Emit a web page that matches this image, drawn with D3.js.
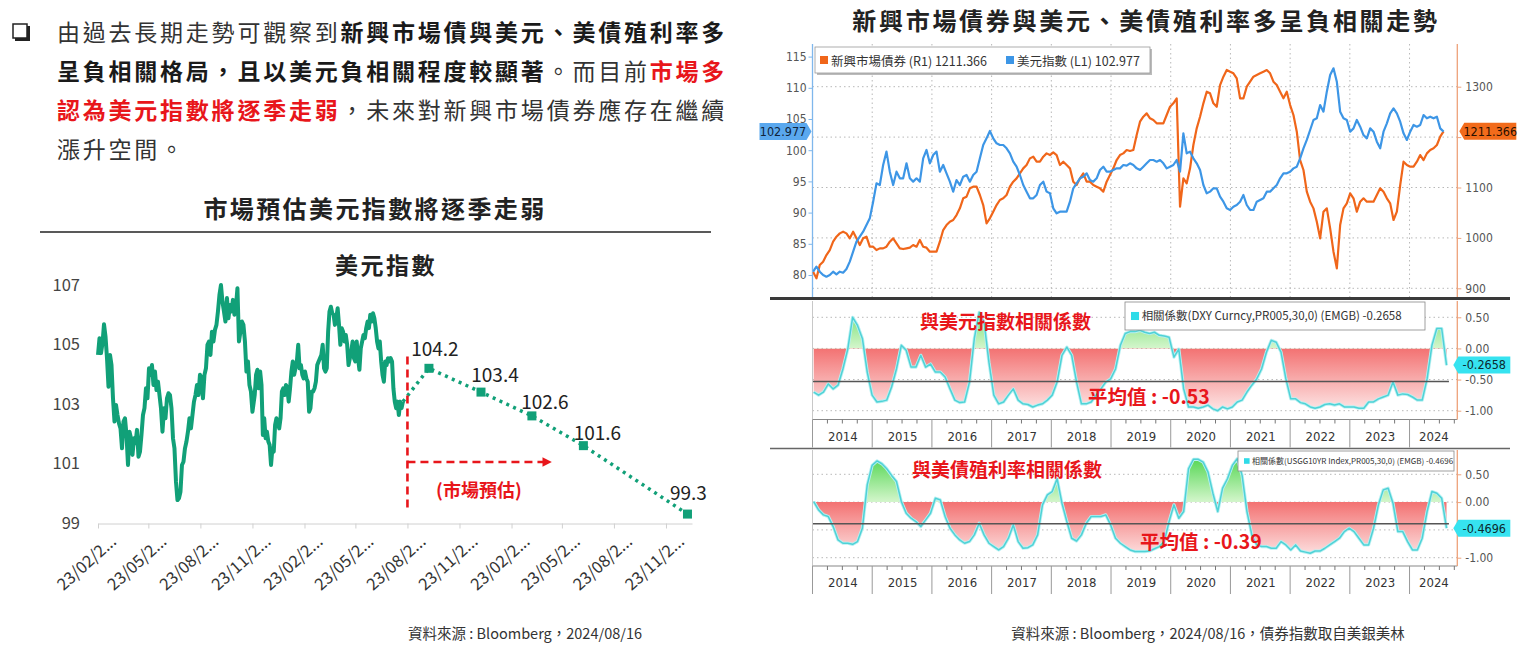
<!DOCTYPE html>
<html>
<head>
<meta charset="utf-8">
<script src="https://d3js.org/d3.v7.min.js"></script>
<style>
  body { margin: 0; background: #fff; }
  svg { display: block; }
</style>
</head>
<body>
<svg width="1530" height="648"></svg>
<script>
// ---------------- data ----------------

// left chart: US dollar index, Feb 2023 - Aug 2024
const dxyHistA = [
  104.65,105.21,104.71,105.04,105.68,105.27,104.54,103.58,104.65,104.31,
  103.19,102.41,102.97,102.63,102.35,102.18,101.51,102.41,102.52,101.96,
  100.95,102.07,101.85,101.29,101.85,101.68,102.13,101.23,101.40,101.96,
  102.63,102.86,103.53,103.19,104.20,103.98,104.31,103.64,104.09,103.47,
  103.75,103.30,102.86,102.07,102.86,102.52,103.19,103.36,103.30,102.86,
  101.85,101.51,100.39,99.77,99.83,100.05,100.95,101.06,101.51,101.74,
  102.07,102.52,102.18,102.63,103.08,103.30,103.64,103.30,103.98,103.86,
  103.19,103.98,104.20,104.99,105.10,104.65,105.43,105.10,105.49,105.66,
  106.11,106.67,107.00,106.44,106.11,105.77,106.56,105.88,106.33,106.11,
  106.50,106.00,106.27,106.89,105.10,105.43,105.77,105.66,105.10,104.09,
  104.43,103.64,103.42,102.74
]
const dxyHistB = [
  103.30,103.98,104.15,103.53,104.09,103.64,101.96,102.52,101.85,102.07,
  101.74,101.62,100.95,101.51,101.40,102.30,102.52,102.41,102.18,102.52,
  103.42,103.53,103.30,103.64,103.53,103.08,103.53,104.09,104.43,103.98,
  104.20,104.43,104.99,104.20,104.31,103.98,103.86,104.09,103.86,103.75,
  102.74,102.86,103.42,103.42,103.53,103.75,104.31,104.43,104.54,104.65,
  104.99,104.20,104.09,104.20,105.43,106.11,106.27,106.05,106.00,105.66,
  105.88,106.22,105.66,104.99,105.55,105.43,105.10,105.32,104.99,104.31,
  104.54,104.76,105.10,104.54,104.43,105.10,104.54,104.15,104.87,105.10,
  105.32,105.21,105.55,105.77,105.55,106.00,105.77,106.05,105.88,105.55,
  105.10,104.87,105.10,104.43,103.98,103.75,104.43,104.31,104.54,104.43,
  104.54,104.43,103.53,103.08,102.86,103.08,102.63,103.08,102.86,103.08
]
const histSpanA = ["2023-02-23", "2023-11-23"]
const histSpanB = ["2023-11-27", "2024-08-15"]

// market forecast for the dollar index (quarter ends)
const forecastDates = ["2024-09-30", "2024-12-31", "2025-03-31", "2025-06-30", "2025-12-31"]
const forecastValues = [104.2, 103.4, 102.6, 101.6, 99.3]

const leftYTicks = [99, 101, 103, 105, 107]
const leftXLabels = ["23/02/2...", "23/05/2...", "23/08/2...", "23/11/2...", "23/02/2...", "23/05/2...",
                     "23/08/2...", "23/11/2...", "23/02/2...", "23/05/2...", "23/08/2...", "23/11/2..."]

// right chart: EM bond index (R1) and dollar index (L1), Jan 2014 - Aug 2024
const emBond = [
  932.9,919.7,946.2,952.8,966.0,975.9,992.5,1002.4,1009.0,1012.3,
  1009.0,999.1,1012.3,999.1,985.9,999.1,1002.4,982.5,982.5,975.9,
  979.2,979.2,982.5,992.5,999.1,989.2,979.2,977.9,979.2,980.6,
  985.9,982.5,995.8,982.5,980.6,972.6,972.6,972.6,992.5,1015.6,
  1025.5,1032.2,1035.5,1045.4,1058.6,1078.5,1081.8,1098.3,1101.6,1101.6,
  1085.1,1065.2,1028.9,1038.8,1052.0,1065.2,1075.2,1078.5,1085.1,1101.6,
  1111.5,1118.1,1128.1,1138.0,1144.6,1157.8,1161.1,1151.2,1151.2,1161.1,
  1167.7,1164.4,1169.7,1164.4,1144.6,1151.2,1144.6,1138.0,1111.5,1104.9,
  1118.1,1128.1,1111.5,1111.5,1104.9,1101.6,1098.3,1091.7,1111.5,1124.8,
  1138.0,1154.5,1164.4,1167.7,
  1174.4,1172.4,1174.4,1204.1,1230.6,1240.5,1247.1,1237.2,1233.9,1227.3,
  1227.3,1227.3,1243.8,1260.3,1267.0,1276.9,1061.9,1118.1,1108.2,1138.0,
  1184.3,1217.4,1240.5,1267.0,1290.1,1286.8,1267.0,1260.3,1303.3,1319.9,
  1333.1,1329.8,1326.5,1316.6,1276.9,1276.9,1300.0,1310.0,1319.9,1323.2,
  1326.5,1329.8,1333.1,1326.5,1310.0,1303.3,1290.1,1276.9,1290.1,1263.6,
  1243.8,1210.7,1154.5,1134.7,1091.7,1071.9,1058.6,1032.2,999.1,1052.0,
  1058.6,1018.9,972.6,939.6,1025.5,1058.6,1068.5,1088.4,1078.5,1052.0,
  1071.9,1078.5,1071.9,1071.9,1071.9,1085.1,1098.3,1091.7,1078.5,1068.5,
  1035.5,1052.0,1104.9,1151.2,1144.6,1141.3,1141.3,1151.2,1164.4,1154.5,
  1167.7,1174.4,1177.7,1184.3,1200.8,1211.4
]
const usdIndex = [
  80.53,81.34,80.53,80.00,79.73,80.00,80.53,80.11,80.53,80.37,
  80.96,82.14,83.74,85.34,86.14,86.94,88.01,89.08,91.75,94.69,
  94.42,97.63,99.77,96.56,94.42,96.56,95.49,95.49,97.90,95.49,
  94.96,95.49,94.96,98.70,100.03,97.90,99.23,99.77,96.56,97.63,
  96.29,94.96,93.36,95.22,94.42,95.76,96.03,94.96,96.03,96.56,
  98.70,100.83,101.90,103.08,101.90,101.10,100.83,100.83,100.30,99.50,
  98.16,97.36,96.03,94.42,93.36,92.29,92.29,92.82,94.42,94.96,
  93.36,93.09,90.68,89.88,90.15,90.15,90.15,91.75,93.89,94.69,
  95.49,95.76,96.29,95.22,94.96,95.49,96.83,97.36,96.56,96.56,
  96.83,97.09,97.09,97.63,
  97.52,97.90,97.63,97.09,96.83,97.36,97.90,98.43,98.43,98.16,
  98.43,97.90,97.09,97.36,97.63,98.43,96.56,102.70,99.50,99.77,
  98.70,97.90,96.83,94.42,93.09,93.36,93.89,93.89,92.55,91.75,
  90.68,90.42,90.95,91.22,91.75,92.82,91.22,90.42,90.42,91.75,
  92.02,92.29,93.36,93.36,93.89,94.42,95.49,96.29,96.29,96.56,
  97.09,97.36,98.70,100.30,101.64,103.24,104.84,105.11,107.24,106.18,
  109.38,112.05,113.12,110.98,106.18,105.11,104.84,102.97,103.50,104.84,
  103.77,102.43,101.90,103.50,102.97,101.37,100.30,102.97,104.31,105.91,
  106.71,105.91,104.57,102.70,101.64,102.97,104.04,103.77,104.04,105.64,
  105.11,105.37,105.11,105.37,103.50,102.98
]
const seriesSpan = [2014.01, 2024.57]   // years covered by the two series
const emLatest = 1211.366
const usdLatest = 102.977
const usdTicks = [80, 85, 90, 95, 100, 105, 110, 115]
const emTicks = [900, 1000, 1100, 1200, 1300]

// rolling correlation with the EM bond index
const corrDxy = [
  -0.70,-0.75,-0.70,-0.57,-0.65,-0.59,-0.33,-0.01,0.50,0.37,
  0.16,-0.38,-0.75,-0.86,-0.85,-0.83,-0.62,-0.33,0.05,-0.03,
  -0.30,-0.30,-0.11,-0.30,-0.25,-0.38,-0.38,-0.46,-0.65,-0.83,
  -0.87,-0.86,-0.54,0.16,0.58,0.42,-0.22,-0.75,-0.89,-0.86,
  -0.75,-0.65,-0.83,-0.89,-0.90,-0.94,-0.91,-0.89,-0.83,-0.75,
  -0.54,-0.11,0.02,-0.11,-0.54,-0.89,-0.89,-0.86,-0.75,-0.65,
  -0.54,-0.49,-0.33,0.05,0.24,0.27,0.27,0.29,0.26,0.24,
  0.26,0.21,0.20,0.18,-0.14,-0.01,-0.65,-0.94,-0.94,-0.96,
  -0.94,-0.91,-0.97,-1.00,-0.94,-0.97,-0.94,-0.86,-0.83,-0.70,
  -0.59,-0.49,-0.33,-0.06,0.13,0.10,-0.06,-0.49,-0.81,-0.81,
  -0.87,-0.89,-0.94,-0.96,-0.94,-0.90,-0.89,-0.91,-0.89,-0.94,
  -0.94,-0.94,-0.96,-0.96,-0.86,-0.86,-0.81,-0.78,-0.75,-0.54,
  -0.75,-0.73,-0.74,-0.78,-0.83,-0.83,-0.49,0.05,0.32,0.32,
  -0.27
]
const corrUst = [
  0.01,-0.14,-0.23,-0.26,-0.44,-0.68,-0.74,-0.74,-0.76,-0.71,
  -0.47,0.31,0.66,0.74,0.69,0.60,0.48,0.37,0.01,-0.20,
  -0.29,-0.35,-0.44,-0.32,-0.20,0.07,0.04,-0.26,-0.47,-0.59,
  -0.68,-0.74,-0.71,-0.59,-0.38,-0.59,-0.74,-0.80,-0.86,-0.80,
  -0.65,-0.41,-0.71,-0.83,-0.82,-0.77,-0.59,-0.05,0.13,0.19,
  0.42,-0.02,-0.35,-0.65,-0.70,-0.59,-0.38,-0.26,-0.26,-0.26,
  -0.23,-0.41,-0.65,-0.74,-0.80,-0.86,-0.89,-0.89,-0.89,-0.88,
  -0.84,-0.80,-0.71,-0.35,-0.05,-0.29,-0.17,0.60,0.77,0.77,
  0.72,0.54,0.16,-0.17,0.25,0.42,0.66,0.78,0.48,-0.17,
  -0.59,-0.77,-0.80,-0.80,-0.83,-0.83,-0.71,-0.77,-0.86,-0.77,
  -0.88,-0.90,-0.92,-0.88,-0.88,-0.83,-0.77,-0.71,-0.65,-0.53,
  -0.47,-0.53,-0.65,-0.77,-0.77,-0.47,-0.05,0.22,0.25,-0.02,
  -0.53,-0.53,-0.71,-0.86,-0.86,-0.65,-0.17,0.19,0.16,0.07,
  -0.47
]
const corrSpan = [2014.02, 2024.62]
const corrDxyLatest = -0.2658
const corrUstLatest = -0.4696
const corrDxyMean = -0.53
const corrUstMean = -0.39
const corrTicks = [0.5, 0, -0.5, -1]
const years = [2014, 2015, 2016, 2017, 2018, 2019, 2020, 2021, 2022, 2023, 2024]

// ---------------- setup ----------------
const svg = d3.select("svg")
const defs = svg.append("defs")
const CJK = "'Noto Sans CJK TC','Noto Sans CJK SC','Noto Sans',sans-serif"
const NARROW = "'Liberation Sans Narrow','DejaVu Sans Condensed','Liberation Sans',sans-serif"
const RED = "#e8161b"
const GREEN = "#11a078"
const parse = d3.timeParse("%Y-%m-%d")
// Bloomberg prints a plain hyphen for negatives
const fmt = d3.formatLocale({ decimal: ".", thousands: ",", grouping: [3], currency: ["", ""], minus: "-" }).format

// ---------------- left: intro text ----------------
svg.append("rect").attr("x", 13).attr("y", 24).attr("width", 14).attr("height", 14)
  .attr("fill", "none").attr("stroke", "#222").attr("stroke-width", 1.5)
svg.append("path").attr("d", "M15,39.5 H28.5 V26").attr("fill", "none")
  .attr("stroke", "#222").attr("stroke-width", 3)

const introLines = [
  [["由過去長期走勢可觀察到", "n"], ["新興市場債與美元、美債殖利率多", "b"]],
  [["呈負相關格局，且以美元負相關程度較顯著", "b"], ["。而目前", "n"], ["市場多", "r"]],
  [["認為美元指數將逐季走弱", "r"], ["，未來對新興市場債券應存在繼續", "n"]],
  [["漲升空間。", "n"]]
]
const introStyle = { n: ["#333", 400], b: ["#1a1a1a", 700], r: [RED, 700] }
introLines.forEach(function(line, i) {
  let t = svg.append("text").attr("x", 57).attr("y", 41 + i * 39)
    .attr("font-family", CJK).attr("font-size", 23).attr("letter-spacing", 2.77)
  line.forEach(function(part) {
    t.append("tspan").attr("fill", introStyle[part[1]][0])
      .attr("font-weight", introStyle[part[1]][1]).text(part[0])
  })
})

// ---------------- left: dollar index chart ----------------
svg.append("text").attr("x", 375).attr("y", 218).attr("text-anchor", "middle")
  .attr("font-family", CJK).attr("font-size", 24).attr("font-weight", 700)
  .attr("letter-spacing", 2.4).attr("fill", "#222").text("市場預估美元指數將逐季走弱")
svg.append("line").attr("x1", 40).attr("x2", 711).attr("y1", 232).attr("y2", 232)
  .attr("stroke", "#222").attr("stroke-width", 1.3)
svg.append("text").attr("x", 386).attr("y", 274).attr("text-anchor", "middle")
  .attr("font-family", CJK).attr("font-size", 23).attr("font-weight", 700)
  .attr("letter-spacing", 2.5).attr("fill", "#222").text("美元指數")

const xL = d3.scaleTime().domain([parse("2023-02-23"), parse("2026-01-08")]).range([98, 692])
const yL = d3.scaleLinear().domain([99, 107]).range([523, 285])

function spread(values, span) {
  let a = +parse(span[0]), b = +parse(span[1])
  return values.map(function(v, i) {
    return { date: new Date(a + (b - a) * i / (values.length - 1)), v: v }
  })
}
const hist = spread(dxyHistA, histSpanA).concat(spread(dxyHistB, histSpanB))
const fc = forecastDates.map(function(d, i) { return { date: parse(d), v: forecastValues[i] } })
const tickDates = leftXLabels.map(function(_, k) { return d3.timeMonth.offset(parse("2023-02-23"), 3 * k) })

let gyL = svg.append("g").attr("transform", "translate(84,0)")
  .call(d3.axisLeft(yL).tickValues(leftYTicks).tickSize(0).tickPadding(4).tickFormat(d3.format("d")))
gyL.select(".domain").remove()
gyL.selectAll("text").attr("font-family", CJK).attr("font-size", 16.5).attr("fill", "#444")

let gxL = svg.append("g").attr("transform", "translate(0,523.5)")
  .call(d3.axisBottom(xL).tickValues(tickDates).tickSize(5).tickSizeOuter(0)
    .tickFormat(function(d, i) { return leftXLabels[i] }))
gxL.select(".domain").attr("stroke", "#d0d0d0")
gxL.selectAll(".tick line").attr("stroke", "#d0d0d0")
gxL.selectAll("text").attr("font-family", CJK).attr("font-size", 16.5).attr("fill", "#333")
  .attr("text-anchor", "end").attr("x", 0).attr("y", 0).attr("dy", "0.35em")
  .attr("transform", "translate(15,15) rotate(-42)")

const lineL = d3.line().x(function(d) { return xL(d.date) }).y(function(d) { return yL(d.v) })
svg.append("path").datum(hist).attr("d", lineL).attr("fill", "none")
  .attr("stroke", GREEN).attr("stroke-width", 4).attr("stroke-linejoin", "round")
svg.append("path").datum([hist[hist.length - 1]].concat(fc)).attr("d", lineL).attr("fill", "none")
  .attr("stroke", GREEN).attr("stroke-width", 3.5).attr("stroke-dasharray", "3 4.5")
svg.selectAll(".fcpt").data(fc).enter().append("rect").attr("class", "fcpt")
  .attr("x", function(d) { return xL(d.date) - 4.5 }).attr("y", function(d) { return yL(d.v) - 4.5 })
  .attr("width", 9).attr("height", 9).attr("fill", GREEN)
// label nudges so the numbers sit beside their markers as in the source
const labelNudge = [[6, -12], [14, -10], [13, -7], [14, -6], [1, -14]]
svg.selectAll(".fclab").data(fc).enter().append("text").attr("class", "fclab")
  .attr("x", function(d, i) { return xL(d.date) + labelNudge[i][0] })
  .attr("y", function(d, i) { return yL(d.v) + labelNudge[i][1] })
  .attr("text-anchor", "middle").attr("font-family", CJK).attr("font-size", 19)
  .attr("fill", "#222").text(function(d) { return d3.format(".1f")(d.v) })

// forecast marker: dashed divider, arrow and note
const splitX = xL(tickDates[6])
svg.append("line").attr("x1", splitX).attr("x2", splitX).attr("y1", yL(104.6)).attr("y2", yL(99.45))
  .attr("stroke", RED).attr("stroke-width", 2.6).attr("stroke-dasharray", "8 5")
defs.append("marker").attr("id", "arrowR").attr("viewBox", "0 0 10 10").attr("refX", 2).attr("refY", 5)
  .attr("markerWidth", 3.6).attr("markerHeight", 3.6).attr("orient", "auto")
  .append("path").attr("d", "M0,0 L10,5 L0,10 Z").attr("fill", RED)
const arrowY = yL(101.05)
const arrowEnd = xL(parse("2025-04-22"))
svg.append("line").attr("x1", splitX).attr("x2", arrowEnd).attr("y1", arrowY).attr("y2", arrowY)
  .attr("stroke", RED).attr("stroke-width", 2.6).attr("stroke-dasharray", "8 5")
  .attr("marker-end", "url(#arrowR)")
svg.append("text").attr("x", (splitX + arrowEnd) / 2 + 3).attr("y", arrowY + 35)
  .attr("text-anchor", "middle").attr("font-family", CJK).attr("font-size", 18)
  .attr("font-weight", 700).attr("fill", RED).text("(市場預估)")

svg.append("text").attr("x", 525).attr("y", 639).attr("text-anchor", "middle")
  .attr("font-family", CJK).attr("font-size", 14.5).attr("fill", "#333")
  .text("資料來源 : Bloomberg，2024/08/16")

// ---------------- right: EM bonds vs dollar / UST ----------------
svg.append("text").attr("x", 1146).attr("y", 30).attr("text-anchor", "middle")
  .attr("font-family", CJK).attr("font-size", 24).attr("font-weight", 700)
  .attr("letter-spacing", 2.7).attr("fill", "#222").text("新興市場債券與美元、美債殖利率多呈負相關走勢")

const xR = d3.scaleLinear().domain([2014, 2024.8]).range([812.5, 1457.3])
const yUsd = d3.scaleLinear().domain([80, 115]).range([275, 56.6])
const yEm = d3.scaleLinear().domain([900, 1300]).range([288.3, 86.7])
const topBox = { y0: 44, y1: 297 }
const BLUE = "#3d96e6", ORANGE = "#f0661a"

function spreadYears(values, span) {
  return values.map(function(v, i) {
    return { t: span[0] + (span[1] - span[0]) * i / (values.length - 1), v: v }
  })
}

// grid
svg.append("g").selectAll("line").data(years.slice(1)).enter().append("line")
  .attr("x1", function(d) { return xR(d) }).attr("x2", function(d) { return xR(d) })
  .attr("y1", topBox.y0).attr("y2", topBox.y1)
  .attr("stroke", "#b8b8b8").attr("stroke-width", 1).attr("stroke-dasharray", "1.5 3")
svg.append("g").selectAll("line").data(emTicks).enter().append("line")
  .attr("x1", xR(2014)).attr("x2", xR(2024.8))
  .attr("y1", function(d) { return yEm(d) }).attr("y2", function(d) { return yEm(d) })
  .attr("stroke", "#b8b8b8").attr("stroke-width", 1).attr("stroke-dasharray", "1.5 3")

// axes
let gUsd = svg.append("g").attr("transform", "translate(" + xR(2014) + ",0)")
  .call(d3.axisLeft(yUsd).tickValues(usdTicks).tickSize(4).tickSizeOuter(0).tickPadding(2))
gUsd.select(".domain").remove()
gUsd.selectAll("line").attr("stroke", "#7fb7ec")
gUsd.selectAll("text").attr("font-family", NARROW).attr("font-size", 12).attr("fill", "#555")
svg.append("line").attr("x1", xR(2014)).attr("x2", xR(2014)).attr("y1", topBox.y0).attr("y2", topBox.y1)
  .attr("stroke", "#7fb7ec").attr("stroke-width", 1.3)

let gEm = svg.append("g").attr("transform", "translate(" + xR(2024.8) + ",0)")
  .call(d3.axisRight(yEm).tickValues(emTicks).tickSize(4).tickSizeOuter(0).tickPadding(4)
    .tickFormat(d3.format("d")))
gEm.select(".domain").remove()
gEm.selectAll("line").attr("stroke", "#eea27a")
gEm.selectAll("text").attr("font-family", NARROW).attr("font-size", 12).attr("fill", "#555")
svg.append("line").attr("x1", xR(2024.8)).attr("x2", xR(2024.8)).attr("y1", topBox.y0).attr("y2", topBox.y1)
  .attr("stroke", "#eea27a").attr("stroke-width", 1.3)

defs.append("clipPath").attr("id", "topClip").append("rect")
  .attr("x", xR(2014)).attr("y", topBox.y0).attr("width", xR(2024.8) - xR(2014)).attr("height", topBox.y1 - topBox.y0)

const emPts = spreadYears(emBond, seriesSpan)
const usdPts = spreadYears(usdIndex, seriesSpan)
let gTop = svg.append("g").attr("clip-path", "url(#topClip)")
gTop.append("path").datum(emPts)
  .attr("d", d3.line().x(function(d) { return xR(d.t) }).y(function(d) { return yEm(d.v) }))
  .attr("fill", "none").attr("stroke", ORANGE).attr("stroke-width", 2.2).attr("stroke-linejoin", "round")
gTop.append("path").datum(usdPts)
  .attr("d", d3.line().x(function(d) { return xR(d.t) }).y(function(d) { return yUsd(d.v) }))
  .attr("fill", "none").attr("stroke", BLUE).attr("stroke-width", 2.2).attr("stroke-linejoin", "round")

// legend
svg.append("rect").attr("x", 817).attr("y", 49).attr("width", 335).attr("height", 26).attr("fill", "#bbb")
svg.append("rect").attr("x", 815).attr("y", 47).attr("width", 335).attr("height", 26)
  .attr("fill", "#fff").attr("stroke", "#999").attr("stroke-width", 0.8)
let topLegend = [
  { c: ORANGE, t: "新興市場債券 (R1) " + fmt(".3f")(emLatest), x: 820 },
  { c: BLUE, t: "美元指數 (L1) " + fmt(".3f")(usdLatest), x: 1006 }
]
topLegend.forEach(function(d) {
  svg.append("rect").attr("x", d.x).attr("y", 56).attr("width", 8).attr("height", 8).attr("fill", d.c)
  svg.append("text").attr("x", d.x + 11).attr("y", 65.5).attr("font-family", CJK).attr("font-size", 12.5)
    .attr("fill", "#333").text(d.t)
})

// value tags on the axes; the tag covers the axis label it sits on, as in the source
function tag(x, y, w, dir, fill, label, textFill, axisG) {
  let h = 17, p = 5
  if (axisG) {
    axisG.selectAll(".tick").filter(function() {
      let m = /translate\([^,]+,([^)]+)\)/.exec(this.getAttribute("transform"))
      return m && Math.abs(+m[1] - y) < 11
    }).select("text").remove()
  }
  let pts = dir > 0
    ? [[x, y], [x + p, y - h / 2], [x + p + w, y - h / 2], [x + p + w, y + h / 2], [x + p, y + h / 2]]
    : [[x, y], [x - p, y - h / 2], [x - p - w, y - h / 2], [x - p - w, y + h / 2], [x - p, y + h / 2]]
  svg.append("polygon").attr("points", pts.map(function(q) { return q.join(",") }).join(" "))
    .attr("fill", fill)
  svg.append("text").attr("x", dir > 0 ? x + p + w / 2 : x - p - w / 2).attr("y", y).attr("dy", "0.36em")
    .attr("text-anchor", "middle").attr("font-family", NARROW).attr("font-size", 12.5)
    .attr("fill", textFill).text(label)
}
tag(xR(2014) - 1, yUsd(usdLatest), 47, -1, "#5aa8ee", fmt(".3f")(usdLatest), "#10243a")
tag(xR(2024.8) + 2, yEm(emLatest), 52, 1, "#f26b1b", fmt(".3f")(emLatest), "#2a1000", gEm)

// separators
svg.append("line").attr("x1", 770).attr("x2", 1510).attr("y1", 298.5).attr("y2", 298.5)
  .attr("stroke", "#3a3a3a").attr("stroke-width", 3)
svg.append("line").attr("x1", 770).attr("x2", 1510).attr("y1", 448.5).attr("y2", 448.5)
  .attr("stroke", "#666").attr("stroke-width", 1.6)

// ---------------- correlation panels ----------------
function panel(cfg) {
  const y = d3.scaleLinear().domain([-1, 0.5]).range(cfg.range)
  const pts = spreadYears(cfg.values, corrSpan)
  const x0 = xR(2014), x1 = xR(2024.8)
  const id = cfg.id

  // gradients
  let gg = defs.append("linearGradient").attr("id", id + "G").attr("gradientUnits", "userSpaceOnUse")
    .attr("x1", 0).attr("x2", 0).attr("y1", y(0.75)).attr("y2", y(0))
  gg.append("stop").attr("offset", 0).attr("stop-color", "#5cd85a")
  gg.append("stop").attr("offset", 1).attr("stop-color", "#d4f6cc")
  let gr = defs.append("linearGradient").attr("id", id + "R").attr("gradientUnits", "userSpaceOnUse")
    .attr("x1", 0).attr("x2", 0).attr("y1", y(0)).attr("y2", y(-1))
  gr.append("stop").attr("offset", 0).attr("stop-color", "#f37272")
  gr.append("stop").attr("offset", 1).attr("stop-color", "#fde6e6")
  defs.append("clipPath").attr("id", id + "Up").append("rect")
    .attr("x", x0).attr("y", cfg.top).attr("width", x1 - x0).attr("height", y(0) - cfg.top)
  defs.append("clipPath").attr("id", id + "Dn").append("rect")
    .attr("x", x0).attr("y", y(0)).attr("width", x1 - x0).attr("height", cfg.axisY - y(0))

  // grid
  svg.append("g").selectAll("line").data(corrTicks).enter().append("line")
    .attr("x1", x0).attr("x2", x1)
    .attr("y1", function(d) { return y(d) }).attr("y2", function(d) { return y(d) })
    .attr("stroke", "#b8b8b8").attr("stroke-dasharray", "1.5 3")

  const area = d3.area().x(function(d) { return xR(d.t) }).y0(y(0)).y1(function(d) { return y(d.v) })
  svg.append("path").datum(pts).attr("d", area).attr("fill", "url(#" + id + "G)").attr("clip-path", "url(#" + id + "Up)")
  svg.append("path").datum(pts).attr("d", area).attr("fill", "url(#" + id + "R)").attr("clip-path", "url(#" + id + "Dn)")
  const line = d3.line().x(function(d) { return xR(d.t) }).y(function(d) { return y(d.v) })
  svg.append("path").datum(pts).attr("d", line).attr("fill", "none")
    .attr("stroke", "#b9f0f2").attr("stroke-width", 3.2).attr("stroke-linejoin", "round")
  svg.append("path").datum(pts).attr("d", line).attr("fill", "none")
    .attr("stroke", "#4fd2d6").attr("stroke-width", 1.5).attr("stroke-linejoin", "round")

  // mean line
  svg.append("line").attr("x1", x0).attr("x2", xR(corrSpan[1] + 0.04))
    .attr("y1", y(cfg.mean)).attr("y2", y(cfg.mean)).attr("stroke", "#555").attr("stroke-width", 1.6)

  // axes frame
  svg.append("line").attr("x1", x0).attr("x2", x0).attr("y1", cfg.top).attr("y2", cfg.axisY)
    .attr("stroke", "#c8c8c8")
  svg.append("line").attr("x1", x0).attr("x2", x1).attr("y1", cfg.axisY).attr("y2", cfg.axisY)
    .attr("stroke", "#888").attr("stroke-width", 1.2)
  let gR = svg.append("g").attr("transform", "translate(" + x1 + ",0)")
    .call(d3.axisRight(y).tickValues(corrTicks).tickSize(4).tickSizeOuter(0).tickPadding(4)
      .tickFormat(fmt(".2f")))
  gR.select(".domain").remove()
  gR.selectAll("line").attr("stroke", "#eea27a")
  gR.selectAll("text").attr("font-family", NARROW).attr("font-size", 12).attr("fill", "#555")
  svg.append("line").attr("x1", x1).attr("x2", x1).attr("y1", cfg.top).attr("y2", cfg.axisY)
    .attr("stroke", "#eea27a").attr("stroke-width", 1.3)

  // quarter ticks and year boxes
  let quarters = []
  years.forEach(function(yr) { [0.25, 0.5, 0.75].forEach(function(q) { if (yr + q < 2024.8) quarters.push(yr + q) }) })
  svg.append("g").selectAll("line").data(quarters).enter().append("line")
    .attr("x1", function(d) { return xR(d) }).attr("x2", function(d) { return xR(d) })
    .attr("y1", cfg.axisY).attr("y2", cfg.axisY + 4).attr("stroke", "#777")
  svg.append("g").selectAll("line").data(years).enter().append("line")
    .attr("x1", function(d) { return xR(d) }).attr("x2", function(d) { return xR(d) })
    .attr("y1", cfg.axisY).attr("y2", cfg.axisY + 28).attr("stroke", "#999")
  let yearMid = years.map(function(yr) { return yr === 2024 ? (yr + 2024.8) / 2 : yr + 0.5 })
  let gx = svg.append("g").attr("transform", "translate(0," + cfg.axisY + ")")
    .call(d3.axisBottom(xR).tickValues(yearMid).tickSize(0).tickPadding(12)
      .tickFormat(function(d, i) { return years[i] }))
  gx.select(".domain").remove()
  gx.selectAll("text").attr("font-family", NARROW).attr("font-size", 13).attr("fill", "#333")

  // value tag
  tag(x1 - 4, y(cfg.latest), 52, 1, "#36e3f0", fmt(".4f")(cfg.latest), "#0c2a2e", gR)

  // legend box
  svg.append("rect").attr("x", cfg.legend.x).attr("y", cfg.legend.y).attr("width", cfg.legend.w)
    .attr("height", cfg.legend.h).attr("fill", "#fff").attr("stroke", "#888").attr("stroke-width", 0.8)
  let s = cfg.legend.fs
  svg.append("rect").attr("x", cfg.legend.x + 6).attr("y", cfg.legend.y + cfg.legend.h / 2 - s * 0.35)
    .attr("width", s * 0.7).attr("height", s * 0.7).attr("fill", "#2fdbe8")
  svg.append("text").attr("x", cfg.legend.x + 8 + s * 0.75).attr("y", cfg.legend.y + cfg.legend.h / 2)
    .attr("dy", "0.36em").attr("font-family", CJK).attr("font-size", s).attr("fill", "#333")
    .text("相關係數(" + cfg.ticker + ",PR005,30,0) (EMGB) " + fmt(".4f")(cfg.latest))

  // red notes
  svg.append("text").attr("x", cfg.title.x).attr("y", cfg.title.y).attr("font-family", CJK)
    .attr("font-size", 19).attr("font-weight", 700).attr("fill", RED).text(cfg.title.t)
  svg.append("text").attr("x", cfg.meanLabel.x).attr("y", cfg.meanLabel.y).attr("font-family", CJK)
    .attr("font-size", 19.5).attr("font-weight", 700).attr("fill", RED)
    .text("平均值 : " + fmt(".2f")(cfg.mean))
}

panel({
  id: "p2", values: corrDxy, latest: corrDxyLatest, mean: corrDxyMean,
  range: [410.7, 317.3], top: 301, axisY: 419.5, ticker: "DXY Curncy",
  legend: { x: 1125, y: 302, w: 300, h: 28, fs: 11.5 },
  title: { x: 920, y: 329, t: "與美元指數相關係數" },
  meanLabel: { x: 1088, y: 404 }
})
panel({
  id: "p3", values: corrUst, latest: corrUstLatest, mean: corrUstMean,
  range: [557.7, 474.3], top: 450, axisY: 566, ticker: "USGG10YR Index",
  legend: { x: 1238, y: 451, w: 216, h: 20, fs: 8 },
  title: { x: 912, y: 477, t: "與美債殖利率相關係數" },
  meanLabel: { x: 1140, y: 549 }
})

svg.append("text").attr("x", 1208).attr("y", 639).attr("text-anchor", "middle")
  .attr("font-family", CJK).attr("font-size", 14.5).attr("fill", "#333")
  .text("資料來源 : Bloomberg，2024/08/16，債券指數取自美銀美林")
</script>
</body>
</html>
